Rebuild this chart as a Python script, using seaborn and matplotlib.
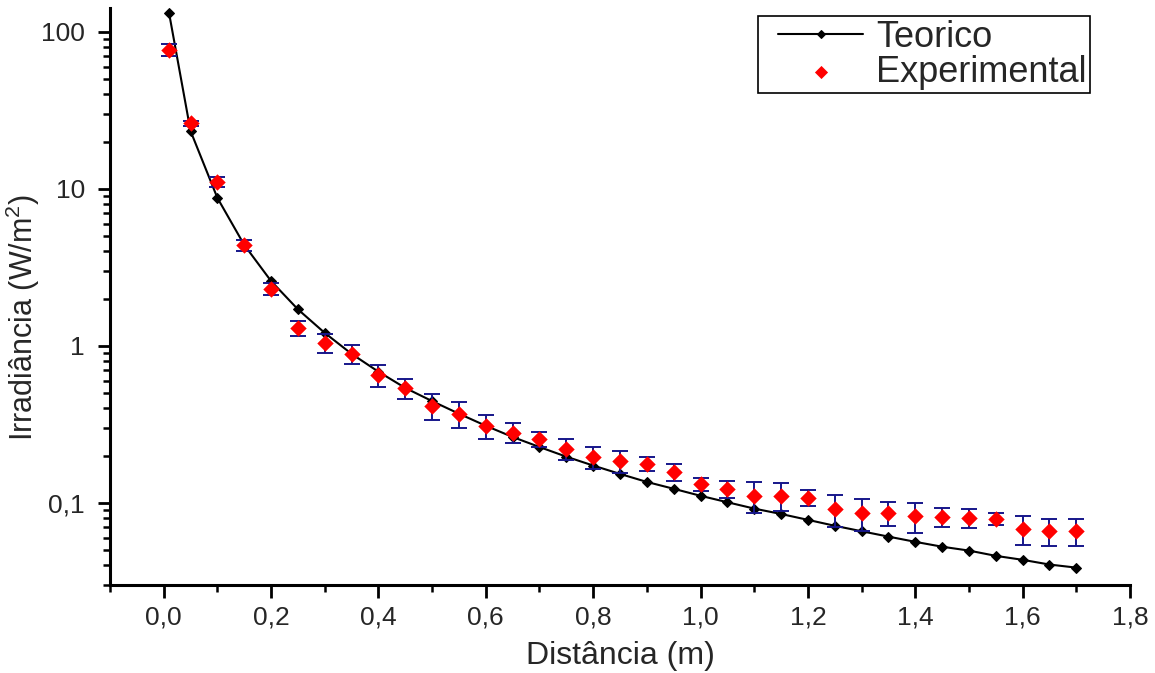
import matplotlib
matplotlib.use("Agg")
import matplotlib.pyplot as plt
from matplotlib.ticker import FixedLocator, FixedFormatter, MultipleLocator, LogLocator, NullFormatter
from matplotlib.legend_handler import HandlerLine2D, HandlerPathCollection
from matplotlib.lines import Line2D
from matplotlib.collections import PathCollection
import seaborn as sns
import pandas as pd

# Distance (m) of each measurement position
distance = [0.01, 0.05, 0.10, 0.15, 0.20, 0.25, 0.30, 0.35, 0.40, 0.45,
            0.50, 0.55, 0.60, 0.65, 0.70, 0.75, 0.80, 0.85, 0.90, 0.95,
            1.00, 1.05, 1.10, 1.15, 1.20, 1.25, 1.30, 1.35, 1.40, 1.45,
            1.50, 1.55, 1.60, 1.65, 1.70]

# Theoretical irradiance (W/m^2)
irradiance_theory = [132, 23.4, 8.77, 4.40, 2.59, 1.71, 1.21, 0.89, 0.685, 0.54,
                     0.445, 0.37, 0.31, 0.263, 0.227, 0.197, 0.173, 0.153, 0.136, 0.123,
                     0.111, 0.101, 0.092, 0.085, 0.078, 0.0715, 0.066, 0.061, 0.0565, 0.0526,
                     0.0497, 0.046, 0.0434, 0.0405, 0.0387]

# Measured irradiance (W/m^2) and its uncertainty
irradiance_exp = [76.8, 26.2, 11.1, 4.40, 2.31, 1.30, 1.045, 0.89, 0.654, 0.54,
                  0.415, 0.369, 0.31, 0.28, 0.256, 0.221, 0.196, 0.185, 0.177, 0.158,
                  0.132, 0.123, 0.111, 0.111, 0.108, 0.0916, 0.0863, 0.086, 0.0826, 0.0815,
                  0.0802, 0.079, 0.0683, 0.0662, 0.066]
irradiance_err = [7.0, 1.0, 0.85, 0.35, 0.19, 0.14, 0.145, 0.125, 0.105, 0.08,
                  0.08, 0.07, 0.055, 0.041, 0.028, 0.034, 0.031, 0.030, 0.018, 0.020,
                  0.013, 0.015, 0.025, 0.022, 0.013, 0.021, 0.020, 0.015, 0.018, 0.011,
                  0.011, 0.007, 0.014, 0.013, 0.013]

x_ticks = [0.0, 0.2, 0.4, 0.6, 0.8, 1.0, 1.2, 1.4, 1.6, 1.8]
x_tick_labels = ["0,0", "0,2", "0,4", "0,6", "0,8", "1,0", "1,2", "1,4", "1,6", "1,8"]
y_ticks = [0.1, 1, 10, 100]
y_tick_labels = ["0,1", "1", "10", "100"]

theory_df = pd.DataFrame({"dist": distance, "irr": irradiance_theory})
exp_df = pd.DataFrame({"dist": distance, "irr": irradiance_exp, "err": irradiance_err})

sns.set_style("ticks")
plt.rcParams["font.family"] = ["Liberation Sans", "DejaVu Sans"]
plt.rcParams["mathtext.default"] = "regular"

fig = plt.figure(figsize=(11.55, 6.73), dpi=100)
ax = fig.add_axes([110 / 1155, 1 - 585 / 673, 1020 / 1155, 577 / 673])

ax.set_yscale("log")

# theoretical curve
sns.lineplot(data=theory_df, x="dist", y="irr", ax=ax, color="black", linewidth=1.5,
             marker="D", markersize=5.5, markeredgecolor="black", markerfacecolor="black",
             label="Teorico", zorder=3, sort=False)

# uncertainty bars of the measurements
ax.errorbar(exp_df["dist"], exp_df["irr"], yerr=exp_df["err"], fmt="none",
            ecolor="#16168a", elinewidth=1.4, capsize=5.5, capthick=1.4, zorder=4)

# measured points
sns.scatterplot(data=exp_df, x="dist", y="irr", ax=ax, color="red", marker="D",
                s=70, edgecolor="red", linewidth=0, label="Experimental", zorder=5)

ax.set_xlim(-0.1, 1.8)
ax.set_ylim(0.03, 142)

ax.xaxis.set_major_locator(FixedLocator(x_ticks))
ax.xaxis.set_major_formatter(FixedFormatter(x_tick_labels))
ax.xaxis.set_minor_locator(MultipleLocator(0.1))
ax.yaxis.set_major_locator(FixedLocator(y_ticks))
ax.yaxis.set_major_formatter(FixedFormatter(y_tick_labels))
ax.yaxis.set_minor_locator(LogLocator(base=10, subs=[2, 3, 4, 5, 6, 7, 8, 9], numticks=20))
ax.yaxis.set_minor_formatter(NullFormatter())

ax.tick_params(axis="both", which="major", direction="out", length=9, width=2,
               labelsize=19, color="black")
ax.tick_params(axis="x", which="major", pad=6)
ax.tick_params(axis="y", which="major", pad=9)
ax.tick_params(axis="both", which="minor", direction="out", length=5, width=1.8,
               color="black")

sns.despine(ax=ax)
for side in ("left", "bottom"):
    ax.spines[side].set_linewidth(2.2)
    ax.spines[side].set_color("black")

ax.set_xlabel("Distância (m)", fontsize=23, labelpad=8)
ax.set_ylabel("Irradiância (W/m$^2$)", fontsize=22)
ax.yaxis.set_label_coords(-0.067, 0.463)

handles, labels = ax.get_legend_handles_labels()
leg = ax.legend(handles, labels, loc="upper right", bbox_to_anchor=(0.961, 0.986),
                borderaxespad=0, fontsize=26, frameon=True, fancybox=False,
                framealpha=1, edgecolor="black", handlelength=2.8, handletextpad=0.36,
                borderpad=0.1, labelspacing=0.0, markerscale=0.8,
                handler_map={Line2D: HandlerLine2D(xpad=0.45),
                             PathCollection: HandlerPathCollection(xpad=0.45)})
leg.get_frame().set_linewidth(1.2)

fig.savefig("out.png", dpi=100)
